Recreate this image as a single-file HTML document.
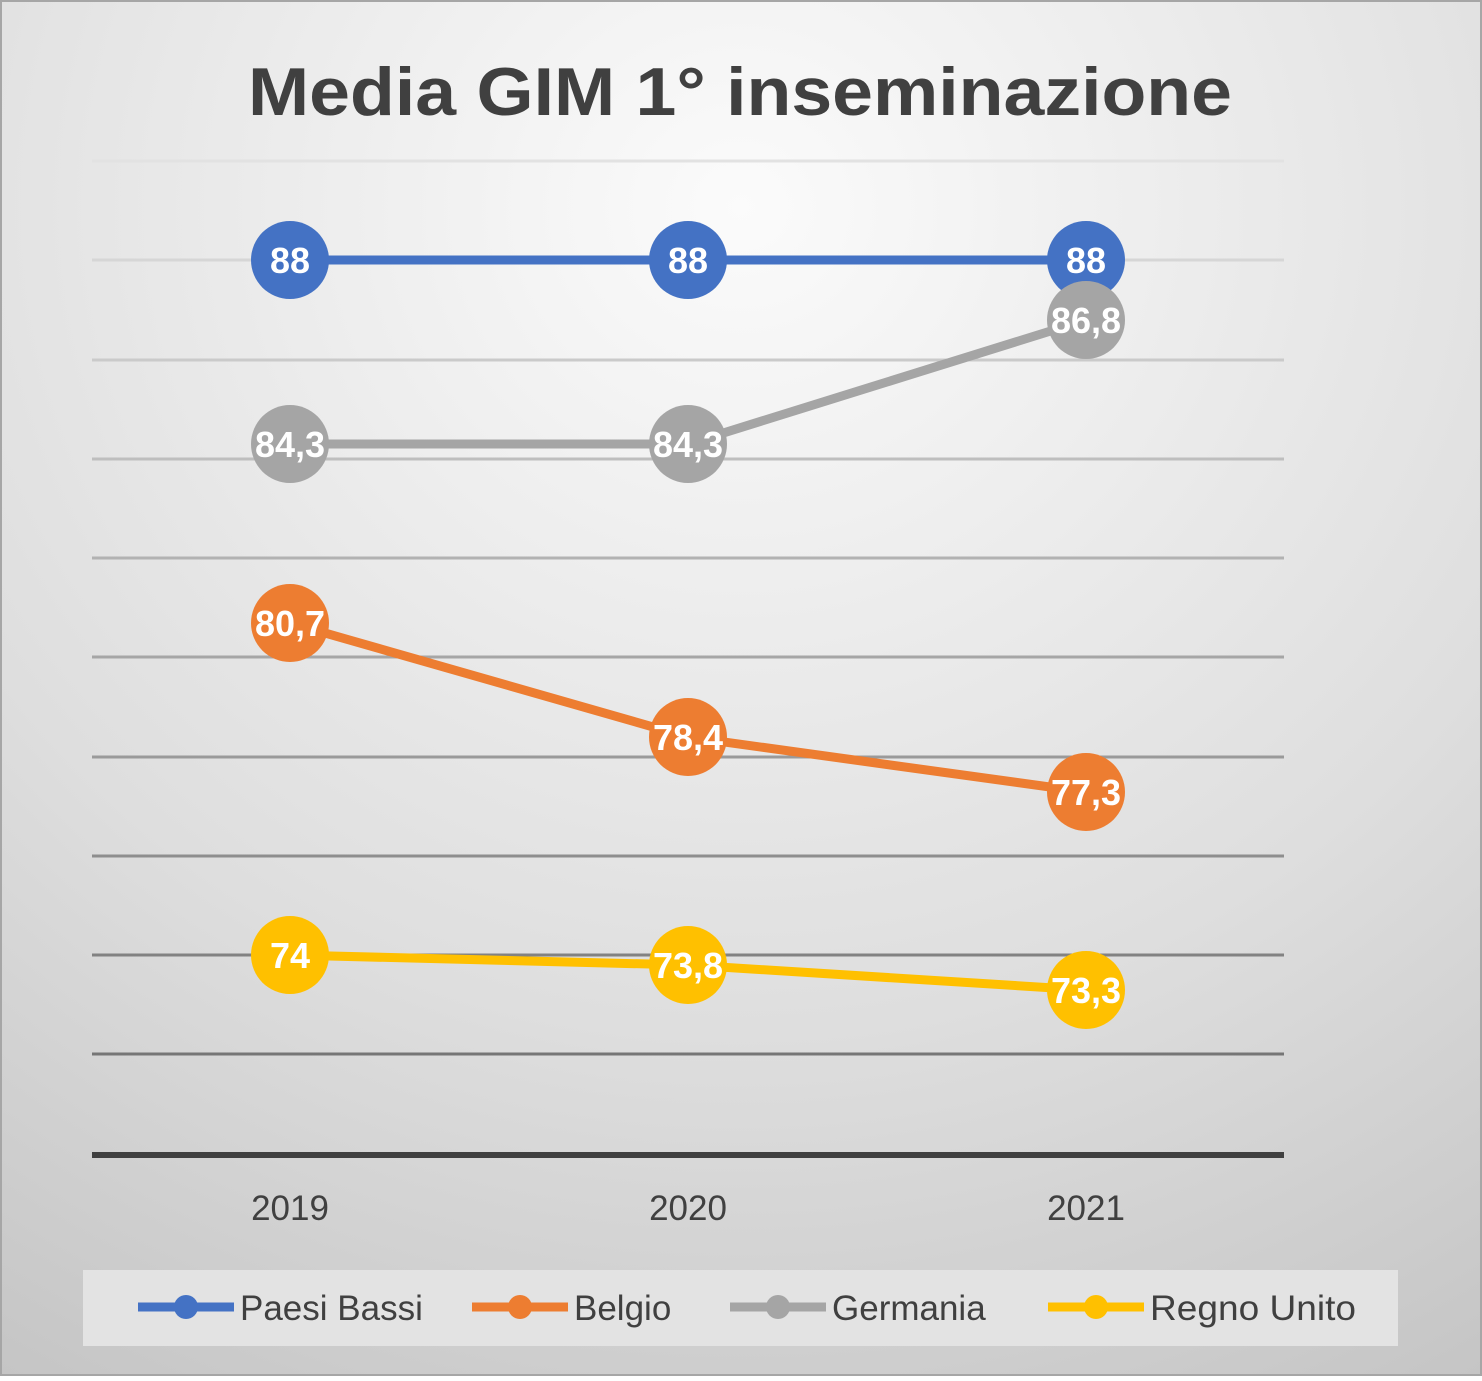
<!DOCTYPE html>
<html><head><meta charset="utf-8"><style>
html,body{margin:0;padding:0;}
body{width:1482px;height:1376px;overflow:hidden;}
</style></head><body>
<svg width="1482" height="1376" xmlns="http://www.w3.org/2000/svg" font-family="Liberation Sans, sans-serif">
<defs>
<radialGradient id="bg" cx="0.5" cy="0.15" r="1.0">
<stop offset="0" stop-color="#fbfbfb"/>
<stop offset="0.6" stop-color="#dedede"/>
<stop offset="1" stop-color="#c4c4c4"/>
</radialGradient>
</defs>
<rect x="1" y="1" width="1480" height="1374" fill="url(#bg)" stroke="#a6a6a6" stroke-width="2"/>
<text x="248" y="115" textLength="984" lengthAdjust="spacingAndGlyphs" font-size="68" font-weight="bold" fill="#404040">Media GIM 1° inseminazione</text>
<g stroke-width="3">
<line x1="92" x2="1284" y1="161" y2="161" stroke="#e2e2e2"/>
<line x1="92" x2="1284" y1="260" y2="260" stroke="#d6d6d6"/>
<line x1="92" x2="1284" y1="360" y2="360" stroke="#cacaca"/>
<line x1="92" x2="1284" y1="459" y2="459" stroke="#bebebe"/>
<line x1="92" x2="1284" y1="558" y2="558" stroke="#b2b2b2"/>
<line x1="92" x2="1284" y1="657" y2="657" stroke="#a6a6a6"/>
<line x1="92" x2="1284" y1="757" y2="757" stroke="#9a9a9a"/>
<line x1="92" x2="1284" y1="856" y2="856" stroke="#8e8e8e"/>
<line x1="92" x2="1284" y1="955" y2="955" stroke="#828282"/>
<line x1="92" x2="1284" y1="1054" y2="1054" stroke="#767676"/>
</g>
<line x1="92" x2="1284" y1="1155" y2="1155" stroke="#404040" stroke-width="6"/>
<g font-size="35" fill="#404040" text-anchor="middle">
<text x="290" y="1220">2019</text><text x="688" y="1220">2020</text><text x="1086" y="1220">2021</text>
</g>
<g stroke-width="9" fill="none">
<polyline points="290,260 688,260 1086,260" stroke="#4472c4"/>
<polyline points="290,623 688,737 1086,792" stroke="#ed7d31"/>
<polyline points="290,444 688,444 1086,320" stroke="#a5a5a5"/>
<polyline points="290,955 688,965 1086,990" stroke="#ffc000"/>
</g>
<g>
<circle cx="290" cy="260" r="39" fill="#4472c4"/><circle cx="688" cy="260" r="39" fill="#4472c4"/>
<circle cx="290" cy="444" r="39" fill="#a5a5a5"/><circle cx="688" cy="444" r="39" fill="#a5a5a5"/>
<circle cx="1086" cy="260" r="39" fill="#4472c4"/><circle cx="1086" cy="320" r="39" fill="#a5a5a5"/>
<circle cx="290" cy="623" r="39" fill="#ed7d31"/><circle cx="688" cy="737" r="39" fill="#ed7d31"/><circle cx="1086" cy="792" r="39" fill="#ed7d31"/>
<circle cx="290" cy="955" r="39" fill="#ffc000"/><circle cx="688" cy="965" r="39" fill="#ffc000"/><circle cx="1086" cy="990" r="39" fill="#ffc000"/>
</g>
<g font-size="36" font-weight="bold" fill="#fff" text-anchor="middle">
<text x="290" y="273">88</text><text x="688" y="273">88</text><text x="1086" y="273">88</text>
<text x="1086" y="333">86,8</text>
<text x="290" y="457">84,3</text><text x="688" y="457">84,3</text>
<text x="290" y="636">80,7</text><text x="688" y="750">78,4</text><text x="1086" y="805">77,3</text>
<text x="290" y="968">74</text><text x="688" y="978">73,8</text><text x="1086" y="1003">73,3</text>
</g>
<rect x="83" y="1270" width="1315" height="76" fill="#e3e3e3"/>
<g stroke-width="9">
<line x1="138" x2="234" y1="1307" y2="1307" stroke="#4472c4"/>
<line x1="472" x2="568" y1="1307" y2="1307" stroke="#ed7d31"/>
<line x1="730" x2="826" y1="1307" y2="1307" stroke="#a5a5a5"/>
<line x1="1048" x2="1144" y1="1307" y2="1307" stroke="#ffc000"/>
</g>
<circle cx="186" cy="1307" r="12" fill="#4472c4"/>
<circle cx="520" cy="1307" r="12" fill="#ed7d31"/>
<circle cx="778" cy="1307" r="12" fill="#a5a5a5"/>
<circle cx="1096" cy="1307" r="12" fill="#ffc000"/>
<g font-size="35" fill="#404040">
<text x="240" y="1320">Paesi Bassi</text>
<text x="574" y="1320">Belgio</text>
<text x="832" y="1320">Germania</text>
<text x="1150" y="1320" textLength="206" lengthAdjust="spacingAndGlyphs">Regno Unito</text>
</g>
</svg>
</body></html>
